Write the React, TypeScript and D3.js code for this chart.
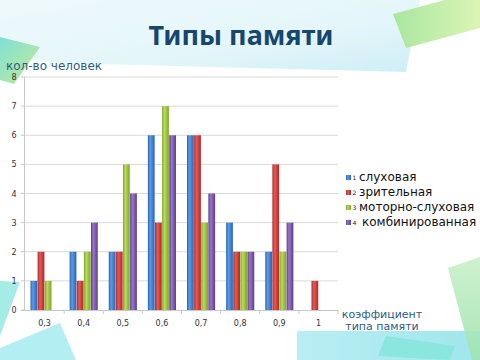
import React from 'react';
import * as d3 from 'd3';

const categories = ['0,3', '0,4', '0,5', '0,6', '0,7', '0,8', '0,9', '1'];
const seriesNames = ['слуховая', 'зрительная', 'моторно-слуховая', 'комбинированная'];
const auditory = [1, 2, 2, 6, 6, 3, 2, 0];
const visual = [2, 1, 2, 3, 6, 2, 5, 1];
const motorAuditory = [1, 2, 5, 7, 3, 2, 2, 0];
const combined = [0, 3, 4, 6, 4, 2, 3, 0];
const yTicks = [0, 1, 2, 3, 4, 5, 6, 7, 8];

const seriesValues = [auditory, visual, motorAuditory, combined];
const colors = [
    { dark: '#2a63b4', light: '#5b9be6' },
    { dark: '#b02828', light: '#e45a55' },
    { dark: '#7ea52a', light: '#b8dd5a' },
    { dark: '#5e3d8e', light: '#9a75c8' }
];

const W = 480;
const H = 360;
const margin = { left: 25, right: 142, top: 77, bottom: 50 };

export default function App() {
    const x = d3.scaleBand<string>()
        .domain(categories)
        .range([margin.left, W - margin.right])
        .padding(0);
    const bw = x.bandwidth();
    const x1 = d3.scaleBand<number>()
        .domain(d3.range(seriesNames.length))
        .range([5.5, bw - 5.5])
        .paddingInner(0.05);
    const y = d3.scaleLinear().domain([0, 8]).range([H - margin.bottom, margin.top]);

    const font = "'DejaVu Sans', Verdana, sans-serif";

    return (
        <div style={{ position: 'fixed', left: 0, top: 0 }}>
            <svg width={W} height={H} style={{ display: 'block', background: '#fff' }}>
                <defs>
                    {colors.map((c, i) => (
                        <linearGradient key={i} id={`bar${i}`} x1="0" x2="1" y1="0" y2="0">
                            <stop offset="0" stopColor={c.dark} />
                            <stop offset="0.35" stopColor={c.light} />
                            <stop offset="1" stopColor={c.dark} />
                        </linearGradient>
                    ))}
                    <linearGradient id="banner" x1="0" x2="1" y1="0" y2="1">
                        <stop offset="0" stopColor="#eef9fb" />
                        <stop offset="0.6" stopColor="#e4f6fa" />
                        <stop offset="1" stopColor="#cdeef6" />
                    </linearGradient>
                    <linearGradient id="greenGrad" x1="0" x2="1" y1="0" y2="0">
                        <stop offset="0" stopColor="#a9e6a0" />
                        <stop offset="1" stopColor="#dcf5b5" />
                    </linearGradient>
                    <linearGradient id="cyanGreen" x1="0" x2="1" y1="0" y2="1">
                        <stop offset="0" stopColor="#7fe0d6" />
                        <stop offset="1" stopColor="#c6ea96" />
                    </linearGradient>
                    <linearGradient id="cyanBand" x1="0" x2="1" y1="0" y2="0">
                        <stop offset="0" stopColor="#b9eef3" />
                        <stop offset="1" stopColor="#9fe6ec" />
                    </linearGradient>
                    <linearGradient id="rightGreen" x1="0" x2="0" y1="0" y2="1">
                        <stop offset="0" stopColor="#c8f0c8" />
                        <stop offset="1" stopColor="#9fe3b0" />
                    </linearGradient>
                </defs>

                {/* background decoration */}
                <polygon points="0,0 420,0 406,72 60,63 0,56" fill="url(#banner)" />
                <polygon points="393,14 445,0 480,0 480,28 406,48" fill="url(#greenGrad)" />
                <polygon points="0,37 40,47 14,84 0,80" fill="url(#cyanGreen)" />
                <polygon points="0,281 20,282 0,336" fill="#a6ece6" />
                <polygon points="0,348 60,323 76,360 0,360" fill="#b3eef2" />
                <polygon points="297,331 480,331 480,360 297,360" fill="url(#cyanBand)" />
                <polygon points="448,268 480,257 480,360 472,360" fill="url(#rightGreen)" opacity={0.9} />
                <polygon points="386,336 455,346 450,360 378,356" fill="#8ae6de" />

                {/* title */}
                <text x={241} y={45} textAnchor="middle" fill="#17466e"
                    style={{ font: `bold 27px ${"'Noto Sans', sans-serif"}` }}>Типы памяти</text>

                {/* y axis title */}
                <text x={6} y={70} fill="#2c5d80" style={{ font: `12px ${font}` }}>кол-во человек</text>

                {/* grid */}
                {yTicks.filter(t => t > 0).map(t => (
                    <line key={t} x1={margin.left} x2={W - margin.right} y1={y(t)} y2={y(t)}
                        stroke="#d9d9d9" strokeWidth={1} />
                ))}
                <line x1={margin.left - 0.5} x2={margin.left - 0.5} y1={y(8)} y2={y(0)} stroke="#c8c8c8" />
                <line x1={margin.left - 4} x2={W - margin.right} y1={y(0) + 0.5} y2={y(0) + 0.5} stroke="#c8c8c8" />
                {yTicks.map(t => (
                    <g key={t}>
                        <line x1={margin.left - 4} x2={margin.left} y1={y(t)} y2={y(t)} stroke="#c8c8c8" />
                        <text x={14} y={y(t) + 3} textAnchor="middle" fill="#333"
                            style={{ font: `8px ${font}` }}>{t}</text>
                    </g>
                ))}
                {categories.map(c => (
                    <line key={c} x1={(x(c) as number) + bw} x2={(x(c) as number) + bw}
                        y1={y(0)} y2={y(0) + 4} stroke="#c8c8c8" />
                ))}

                {/* bars */}
                {categories.map((c, ci) => (
                    <g key={c} transform={`translate(${x(c)},0)`}>
                        {seriesValues.map((vals, si) => vals[ci] > 0 && (
                            <rect key={si} x={x1(si)} width={x1.bandwidth()}
                                y={y(vals[ci])} height={y(0) - y(vals[ci])}
                                fill={`url(#bar${si})`} />
                        ))}
                    </g>
                ))}

                {/* x tick labels */}
                {categories.map(c => (
                    <text key={c} x={(x(c) as number) + bw / 2} y={326} textAnchor="middle" fill="#333"
                        style={{ font: `8px ${font}` }}>{c}</text>
                ))}

                {/* x axis title */}
                <text x={382} y={318} textAnchor="middle" fill="#2c5d80" style={{ font: `11px ${font}` }}>коэффициент</text>
                <text x={382} y={330} textAnchor="middle" fill="#2c5d80" style={{ font: `11px ${font}` }}>типа памяти</text>

                {/* legend */}
                {seriesNames.map((name, i) => (
                    <g key={name} transform={`translate(346,${177 + i * 15})`}>
                        <rect x={0} y={-2} width={5} height={5} fill={`url(#bar${i})`} />
                        <text x={6.5} y={3} fill="#222" style={{ font: `6px ${font}` }}>{i + 1}</text>
                        <text x={i === 3 ? 16 : 13} y={4} fill="#111" style={{ font: `12px ${font}` }}>{name}</text>
                    </g>
                ))}
            </svg>
        </div>
    );
}
